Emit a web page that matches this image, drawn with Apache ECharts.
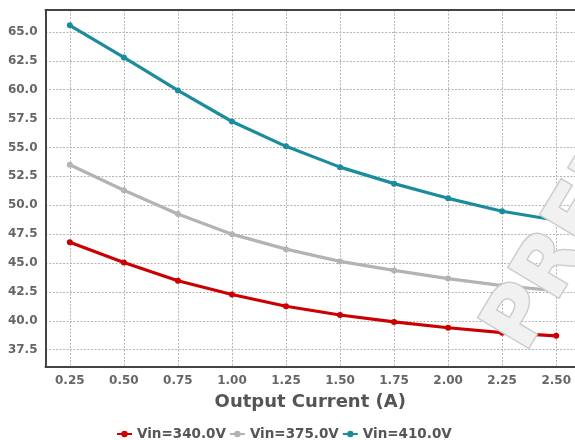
<!DOCTYPE html>
<html>
<head>
<meta charset="utf-8">
<script src="https://cdn.jsdelivr.net/npm/echarts@6/dist/echarts.min.js"></script>
<style>
  html, body { margin: 0; padding: 0; background: #fff; }
  #chart { width: 575px; height: 440px; }
</style>
</head>
<body>
<div id="chart"></div>
<script>
  // data
  var currents = [0.25, 0.50, 0.75, 1.00, 1.25, 1.50, 1.75, 2.00, 2.25, 2.50];
  var vin340 = [46.8, 45.05, 43.46, 42.27, 41.26, 40.5, 39.9, 39.4, 38.97, 38.7];
  var vin375 = [53.5, 51.3, 49.25, 47.5, 46.2, 45.14, 44.36, 43.65, 43.04, 42.6];
  var vin410 = [65.57, 62.79, 59.94, 57.25, 55.1, 53.3, 51.87, 50.6, 49.48, 48.7];
  var seriesNames = ['Vin=340.0V', 'Vin=375.0V', 'Vin=410.0V'];
  var seriesColors = ['#cc0000', '#b3b3b3', '#1a8c9c'];
  var seriesData = [vin340, vin375, vin410];

  var font = 'DejaVu Sans';
  var frame = { show: true, lineStyle: { color: '#444', width: 2 } };
  var grid = { color: '#b5b5b5', width: 1, type: [2, 1.5] };
  var chart = echarts.init(document.getElementById('chart'));

  function pairs(values) {
    var out = [];
    for (var i = 0; i < currents.length; i++) {
      out.push([currents[i], values[i]]);
    }
    return out;
  }

  var series = [];
  for (var s = 0; s < seriesNames.length; s++) {
    series.push({
      name: seriesNames[s],
      type: 'line',
      data: pairs(seriesData[s]),
      symbol: 'circle',
      symbolSize: 6,
      showSymbol: true,
      lineStyle: { width: 3.2, color: seriesColors[s] },
      itemStyle: { color: seriesColors[s] },
      z: 3
    });
  }

  var option = {
    backgroundColor: '#fff',
    animation: false,
    grid: {
      left: 45.5,
      right: 0,
      top: 10,
      bottom: 73
    },
    legend: {
      data: seriesNames,
      left: 111,
      top: 422,
      itemWidth: 15,
      itemHeight: 8,
      itemGap: 3,
      textStyle: { fontFamily: font, fontSize: 13.5, fontWeight: 'bold', color: '#555' }
    },
    xAxis: [{
      type: 'value',
      min: 0.1375,
      max: 2.587,
      minInterval: 0.25,
      maxInterval: 0.25,
      name: 'Output Current (A)',
      nameLocation: 'middle',
      nameGap: 26,
      nameTextStyle: { fontFamily: font, fontSize: 18, fontWeight: 'bold', color: '#555' },
      axisLine: frame,
      axisTick: { show: false },
      axisLabel: {
        margin: 8,
        showMinLabel: false,
        showMaxLabel: false,
        fontFamily: font, fontSize: 12, fontWeight: 'bold', color: '#666',
        formatter: function (v) { return v.toFixed(2); }
      },
      splitLine: { show: true, lineStyle: grid }
    }, {
      // top edge of the frame
      type: 'value',
      position: 'top',
      min: 0.1375,
      max: 2.587,
      axisLine: frame,
      axisTick: { show: false },
      axisLabel: { show: false },
      splitLine: { show: false }
    }],
    yAxis: {
      type: 'value',
      min: 36,
      max: 66.9,
      minInterval: 2.5,
      maxInterval: 2.5,
      axisLine: frame,
      axisTick: { show: false },
      axisLabel: {
        margin: 8,
        showMinLabel: false,
        showMaxLabel: false,
        fontFamily: font, fontSize: 12, fontWeight: 'bold', color: '#666',
        formatter: function (v) { return v.toFixed(1); }
      },
      splitLine: { show: true, lineStyle: grid }
    },
    graphic: [{
      type: 'text',
      x: 507,
      y: 343,
      rotation: 59 * Math.PI / 180,
      z: 100,
      style: {
        text: 'PRELIMINARY',
        font: 'bold 80px "DejaVu Sans"',
        fill: '#f1f1f1',
        stroke: '#cdcdcd',
        lineWidth: 3,
        textAlign: 'left',
        textVerticalAlign: 'middle',
        shadowBlur: 5,
        shadowColor: 'rgba(0,0,0,0.3)',
        shadowOffsetX: 2,
        shadowOffsetY: 3
      }
    }],
    series: series
  };

  chart.setOption(option);
</script>
</body>
</html>
